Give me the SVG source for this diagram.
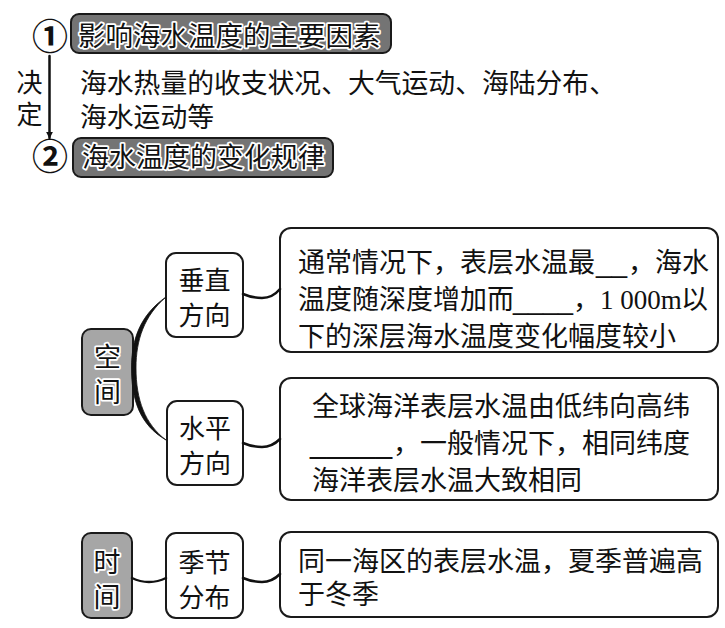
<svg xmlns="http://www.w3.org/2000/svg" width="725" height="628" viewBox="0 0 725 628">
<style>
  .t { font-family: "Noto Sans CJK SC", "Noto Sans", sans-serif; font-size: 27px; fill: #111; }
  .halo { font-family: "Noto Sans CJK SC", "Noto Sans", sans-serif; fill: #111; stroke: #fff; stroke-width: 3.5px; paint-order: stroke; stroke-linejoin: round; }
  .box { fill: #fff; stroke: #1a1a1a; stroke-width: 2; }
  .dark { fill: #747474; stroke: #1a1a1a; stroke-width: 2; }
  .light { fill: #a6a6a6; stroke: #1a1a1a; stroke-width: 2; }
  .u { font-family: "Liberation Sans", sans-serif; }
  .serif { font-family: "Liberation Serif", serif; }
  .conn { fill: none; stroke: #111; stroke-width: 2.5; stroke-linecap: round; }
  .mid { text-anchor: middle; }
</style>
<defs>
  <marker id="arr" viewBox="0 0 10 10" refX="9" refY="5" markerWidth="7" markerHeight="8" orient="auto" markerUnits="userSpaceOnUse">
    <path d="M0,0 L10,5 L0,10 Z" fill="#111"/>
  </marker>
</defs>

<!-- Top section -->
<g id="num1"><text class="t mid" x="50" y="50" style="font-size:36px;font-weight:bold">①</text></g>
<g id="title1">
  <rect class="dark" x="71" y="14" width="320" height="39" rx="8"/>
  <text class="halo" x="78" y="46" style="font-size:27.5px">影响海水温度的主要因素</text>
</g>
<g id="decide">
  <text class="t mid" style="font-size:26px"><tspan x="29.5" y="92">决</tspan><tspan x="29.5" y="124">定</tspan></text>
</g>
<g id="factors">
  <text class="t" style="font-size:26.8px"><tspan x="80" y="93">海水热量的收支状况、大气运动、海陆分布、</tspan><tspan x="80" y="127">海水运动等</tspan></text>
</g>
<g id="num2"><text class="t mid" x="50" y="170" style="font-size:36px;font-weight:bold">②</text></g>
<g id="title2">
  <rect class="dark" x="73" y="138" width="260" height="39" rx="8"/>
  <text class="halo" x="82" y="167" style="font-size:27px">海水温度的变化规律</text>
</g>

<!-- Nodes -->
<g id="space">
  <rect class="light" x="82" y="329" width="51" height="86" rx="9"/>
  <text class="halo mid" style="font-size:27px"><tspan x="107.5" y="367">空</tspan><tspan x="107.5" y="402">间</tspan></text>
</g>
<g id="vertical">
  <rect class="box" x="166" y="253" width="77" height="84" rx="10"/>
  <text class="t mid" style="font-size:26px"><tspan x="204.5" y="290">垂直</tspan><tspan x="204.5" y="325">方向</tspan></text>
</g>
<g id="horizontal">
  <rect class="box" x="167" y="401" width="76" height="84" rx="10"/>
  <text class="t mid" style="font-size:26px"><tspan x="205" y="438">水平</tspan><tspan x="205" y="473">方向</tspan></text>
</g>
<g id="time">
  <rect class="light" x="82" y="533" width="50" height="85" rx="9"/>
  <text class="halo mid" style="font-size:27px"><tspan x="107" y="572">时</tspan><tspan x="107" y="607">间</tspan></text>
</g>
<g id="season">
  <rect class="box" x="166" y="533" width="77" height="85" rx="10"/>
  <text class="t mid" style="font-size:26px"><tspan x="204.5" y="572">季节</tspan><tspan x="204.5" y="607">分布</tspan></text>
</g>

<g id="detail-vertical">
  <rect class="box" x="280" y="228" width="438" height="124" rx="11"/>
  <text class="t"><tspan x="298" y="272">通常情况下，表层水温最</tspan><tspan class="u" x="596" y="272" style="font-size:28px">__</tspan><tspan x="628" y="272">，海水</tspan><tspan x="298" y="309">温度随深度增加而</tspan><tspan class="u" x="513" y="309" style="font-size:27px">____</tspan><tspan x="573" y="309">，</tspan><tspan class="serif" x="600" y="309">1 000m</tspan><tspan x="681" y="309">以</tspan><tspan x="298" y="346">下的深层海水温度变化幅度较小</tspan></text>
</g>
<g id="detail-horizontal">
  <rect class="box" x="280" y="378" width="438" height="122" rx="11"/>
  <text class="t"><tspan x="312" y="416">全球海洋表层水温由低纬向高纬</tspan><tspan class="u" x="310" y="453" style="font-size:29.5px">_____</tspan><tspan x="393" y="453">，一般情况下，相同纬度</tspan><tspan x="312" y="490">海洋表层水温大致相同</tspan></text>
</g>
<g id="detail-season">
  <rect class="box" x="280" y="532" width="438" height="85" rx="11"/>
  <text class="t"><tspan x="298" y="571">同一海区的表层水温，夏季普遍高</tspan><tspan x="298" y="604">于冬季</tspan></text>
</g>

<!-- Connectors -->
<g id="connectors">
  <line class="conn" x1="49.5" y1="56" x2="49.5" y2="138" stroke-width="1.8" marker-end="url(#arr)"/>
  <path d="M166,297 C140,315 131.5,340 131.5,368 C131.5,400 140,425 166,440 C145,424 136,400 136,368 C136,340 144,316 166,297 Z" fill="#111" stroke="#111" stroke-width="0.8"/>
  <path class="conn" d="M243,294 C250,297 255,298 262,298 C270,298 275,295 280,289"/>
  <path class="conn" d="M243,443 C250,446 255,447 262,447 C270,447 275,444 280,439"/>
  <path class="conn" d="M243,578 C250,581 255,582 262,582 C270,582 275,579 280,574"/>
  <path class="conn" d="M132,578 C138,581 143,582 149,582 C155,582 160,581 166,578"/>
</g>
</svg>
